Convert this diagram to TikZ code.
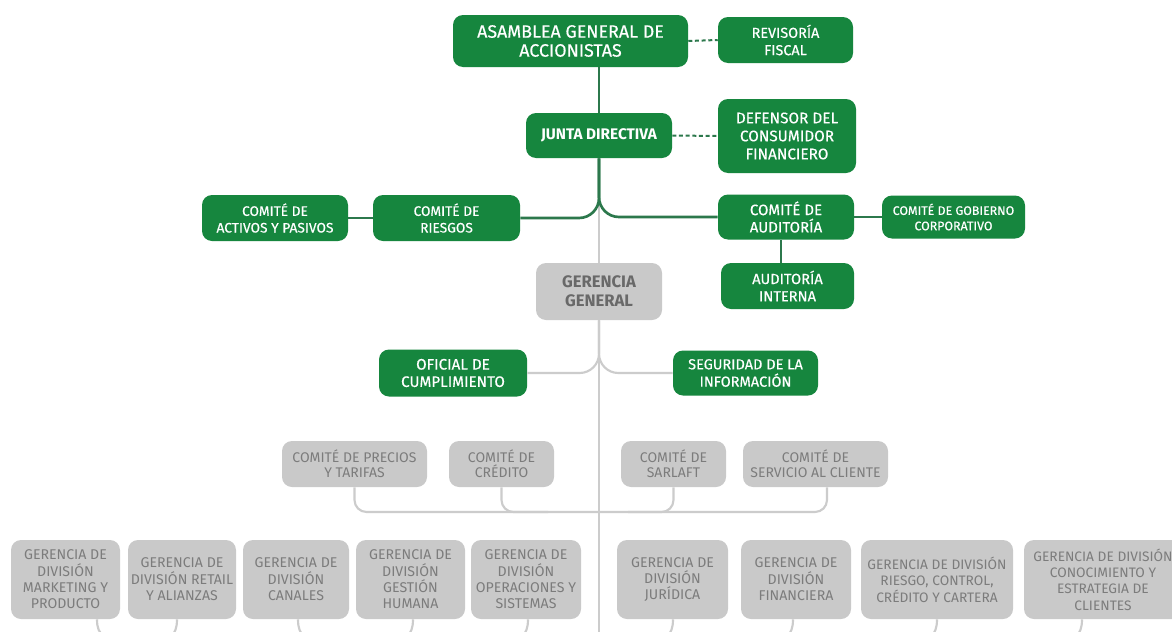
\documentclass[tikz,border=0pt]{standalone}
\usepackage{fontspec}
\setmainfont{Fira Sans}
\newfontfamily\semibold{Fira Sans}[FakeBold=0.4]

\definecolor{boxgreen}{RGB}{22,134,62}
\definecolor{linkgreen}{RGB}{44,120,76}
\definecolor{boxgray}{RGB}{201,201,201}
\definecolor{textgray}{RGB}{124,124,124}
\definecolor{titlegray}{RGB}{105,105,105}
\definecolor{linkgray}{RGB}{204,204,204}

\tikzset{
  box/.style 2 args={minimum width={#1*0.75pt}, minimum height={#2*0.75pt},
    rounded corners=7.5pt, align=center, inner sep=0pt},
  gbox/.style={fill=boxgreen, text=white},
  ybox/.style={fill=boxgray, text=textgray},
  gfs/.style 2 args={font=\semibold\fontsize{#1}{#2}\selectfont},
  yfs/.style 2 args={font=\fontsize{#1}{#2}\selectfont},
  gline/.style={draw=linkgreen, line width=2pt},
  yline/.style={draw=linkgray, line width=1.6pt},
  dline/.style={draw=linkgreen, line width=1.5pt, dash pattern=on 3pt off 2pt},
}

\begin{document}
\begin{tikzpicture}[x=0.75pt, y=-0.75pt]
\useasboundingbox (0,0) rectangle (1172,632);
\fill[white] (0,0) rectangle (1172,632);
\clip (0,0) rectangle (1172,632);

% governing bodies
\node[gbox, box={235}{52}, gfs={13.4}{14.2}] (ag) at (570.5,41) {ASAMBLEA GENERAL DE\\ACCIONISTAS};
\node[gbox, box={135}{46}, gfs={10.8}{13}] (rf) at (785.5,40) {REVISORÍA\\FISCAL};
\node[gbox, box={146}{45}, font=\bfseries\fontsize{11.5}{13}\selectfont] (jd) at (599,135.5) {JUNTA DIRECTIVA};
\node[gbox, box={138}{74}, gfs={11.5}{13.5}] (dcf) at (787,136) {DEFENSOR DEL\\CONSUMIDOR\\FINANCIERO};

% board committees
\node[gbox, box={146}{46}, gfs={10.3}{12.5}] (cap) at (275,218) {COMITÉ DE\\ACTIVOS Y PASIVOS};
\node[gbox, box={147}{46}, gfs={10.3}{12.5}] (cr) at (446.5,218) {COMITÉ DE\\RIESGOS};
\node[gbox, box={136}{45}, gfs={11.3}{13}] (ca) at (786,217) {COMITÉ DE\\AUDITORÍA};
\node[gbox, box={143}{43}, gfs={9.3}{11.5}] (cgc) at (953.5,217) {COMITÉ DE GOBIERNO\\CORPORATIVO};
\node[gbox, box={133}{46}, gfs={11}{13}] (ai) at (787.5,286) {AUDITORÍA\\INTERNA};

% management
\node[fill=boxgray, text=titlegray, box={126}{57}, font=\bfseries\fontsize{12.5}{14.5}\selectfont] (gg) at (599,291.5) {GERENCIA\\GENERAL};
\node[gbox, box={148}{47}, gfs={11.4}{13}] (oc) at (453,373) {OFICIAL DE\\CUMPLIMIENTO};
\node[gbox, box={145}{45}, gfs={10.9}{13}] (si) at (745.5,373) {SEGURIDAD DE LA\\INFORMACIÓN};

% management committees
\node[ybox, box={145}{46}, yfs={10.5}{11.5}] (cpt) at (354.5,464) {COMITÉ DE PRECIOS\\Y TARIFAS};
\node[ybox, box={105}{46}, yfs={10.5}{11.5}] (cc) at (501.5,464) {COMITÉ DE\\CRÉDITO};
\node[ybox, box={105}{46}, yfs={10.5}{11.5}] (cs) at (673.5,464) {COMITÉ DE\\SARLAFT};
\node[ybox, box={145}{46}, yfs={10.5}{11.5}] (cv) at (815.5,464) {COMITÉ DE\\SERVICIO AL CLIENTE};

% division managements
\node[ybox, box={109}{79}, yfs={10.6}{12.3}] (b1) at (65.5,579.5) {GERENCIA DE\\DIVISIÓN\\MARKETING Y\\PRODUCTO};
\node[ybox, box={108}{79}, yfs={10.6}{12.3}] (b2) at (182,579.5) {GERENCIA DE\\DIVISIÓN RETAIL\\Y ALIANZAS};
\node[ybox, box={106}{79}, yfs={10.6}{12.3}] (b3) at (296,579.5) {GERENCIA DE\\DIVISIÓN\\CANALES};
\node[ybox, box={109}{79}, yfs={10.6}{12.3}] (b4) at (410.5,579.5) {GERENCIA DE\\DIVISIÓN\\GESTIÓN\\HUMANA};
\node[ybox, box={110}{79}, yfs={10.6}{12.3}] (b5) at (526,579.5) {GERENCIA DE\\DIVISIÓN\\OPERACIONES Y\\SISTEMAS};
\node[ybox, box={111}{79}, yfs={10.6}{12.3}] (b6) at (672.5,579.5) {GERENCIA DE\\DIVISIÓN\\JURÍDICA};
\node[ybox, box={110}{79}, yfs={10.6}{12.3}] (b7) at (796,579.5) {GERENCIA DE\\DIVISIÓN\\FINANCIERA};
\node[ybox, box={152}{79}, yfs={10.3}{12.3}] (b8) at (937,579.5) {GERENCIA DE DIVISIÓN\\RIESGO, CONTROL,\\CRÉDITO Y CARTERA};
\node[ybox, box={158}{79}, yfs={10.3}{12.3}] (b9) at (1103,579.5) {GERENCIA DE DIVISIÓN\\CONOCIMIENTO Y\\ESTRATEGIA DE\\CLIENTES};

% grey management trunk
\coordinate (trunkend) at (599,640);
\coordinate (busy) at (0,512);
\coordinate (cvs) at (cv.south -| 827,0);
\coordinate (ccs) at (548,512);
\coordinate (css) at (628,512);
\draw[yline] (jd.south) -- (gg.north);
\draw[yline] (gg.south) -- (trunkend);
\draw[yline, rounded corners=14.5pt] (gg.south) |- (oc.east);
\draw[yline, rounded corners=14.5pt] (gg.south) |- (si.west);

% committee bus
\draw[yline, rounded corners=9pt] (cpt.south) |- (cvs |- busy) -- (cvs);
\draw[yline, rounded corners=9pt] (cc.south) |- (ccs);
\draw[yline, rounded corners=9pt] (cs.south) |- (css);

% stubs leaving the division boxes
\coordinate (e1) at (104,636);
\coordinate (e2) at (171,636);
\coordinate (e3) at (304,636);
\coordinate (e4) at (407,636);
\coordinate (e5) at (522,636);
\coordinate (e6) at (667,636);
\coordinate (e7) at (787,636);
\coordinate (e8) at (931,636);
\coordinate (e9) at (1076,636);
\draw[yline] (b1.south -| 97,0) .. controls (97,628) and (99,633) .. (e1);
\draw[yline] (b2.south -| 177,0) .. controls (177,628) and (175,633) .. (e2);
\draw[yline] (b3.south -| 298,0) .. controls (298,628) and (300,633) .. (e3);
\draw[yline] (b4.south -| 413,0) .. controls (413,628) and (411,633) .. (e4);
\draw[yline] (b5.south -| 528,0) .. controls (528,628) and (526,633) .. (e5);
\draw[yline] (b6.south -| 673,0) .. controls (673,628) and (671,633) .. (e6);
\draw[yline] (b7.south -| 793,0) .. controls (793,628) and (791,633) .. (e7);
\draw[yline] (b8.south -| 937,0) .. controls (937,628) and (935,633) .. (e8);
\draw[yline] (b9.south -| 1082,0) .. controls (1082,628) and (1080,633) .. (e9);

% green governance links
\draw[gline] (ag.south -| jd.north) -- (jd.north);
\draw[gline, rounded corners=15pt] (jd.south) |- (cr.east);
\draw[gline, rounded corners=15pt] (jd.south) |- (ca.west);
\draw[gline] (cap.east) -- (cr.west);
\draw[gline] (ca.east) -- (cgc.west);
\draw[gline] ([xshift=-3.75pt]ca.south) -- ([xshift=-3.75pt]ca.south |- ai.north);
\draw[dline] (ag.east) -- (rf.west);
\draw[dline] (jd.east) -- (dcf.west);
\end{tikzpicture}
\end{document}
